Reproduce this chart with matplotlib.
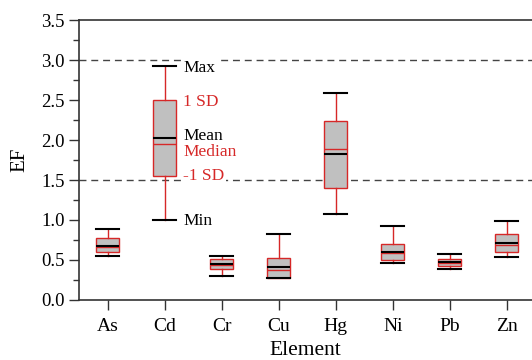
import matplotlib
matplotlib.use("Agg")
import matplotlib.pyplot as plt
from matplotlib.ticker import MultipleLocator

plt.rcParams['font.family'] = ['Liberation Serif', 'DejaVu Serif']

# EF statistics per element
elements = ["As", "Cd", "Cr", "Cu", "Hg", "Ni", "Pb", "Zn"]
ef_min = [0.55, 1.00, 0.30, 0.27, 1.07, 0.46, 0.39, 0.54]
ef_max = [0.89, 2.92, 0.55, 0.83, 2.59, 0.92, 0.58, 0.99]
ef_lo_sd = [0.60, 1.55, 0.39, 0.28, 1.40, 0.50, 0.43, 0.60]
ef_hi_sd = [0.77, 2.50, 0.51, 0.53, 2.24, 0.70, 0.51, 0.83]
ef_mean = [0.68, 2.03, 0.45, 0.41, 1.82, 0.60, 0.47, 0.71]
ef_median = [0.66, 1.95, 0.44, 0.37, 1.89, 0.59, 0.46, 0.69]
thresholds = [1.5, 3.0]

RED = '#d62828'
GRAY = '#c0c0c0'

stats = []
for i, el in enumerate(elements):
    stats.append(dict(label=el, whislo=ef_min[i], whishi=ef_max[i],
                      q1=ef_lo_sd[i], q3=ef_hi_sd[i],
                      med=ef_median[i], mean=ef_mean[i], fliers=[]))

fig = plt.figure(figsize=(5.32, 3.6), dpi=100)
ax = fig.add_axes([0.1485, 0.1667, 0.8515, 0.7777])

for t in thresholds:
    ax.axhline(t, color='#444444', lw=1.0, dashes=(5, 3.5), zorder=0)

ax.bxp(stats, positions=range(1, len(elements) + 1), widths=0.4,
       patch_artist=True, showmeans=True, meanline=True, showfliers=False,
       boxprops=dict(facecolor=GRAY, edgecolor=RED, lw=1.0),
       whiskerprops=dict(color=RED, lw=1.0),
       capprops=dict(color='black', lw=1.5),
       medianprops=dict(color=RED, lw=1.0),
       meanprops=dict(color='black', lw=1.5, linestyle='-'),
       capwidths=0.4)

# legend-style annotations beside Cd
lx = 2.33
fs = 12.5
ax.text(lx, 2.90, "Max", color='black', fontsize=fs, va='center',
        bbox=dict(facecolor='white', edgecolor='none', pad=1))
ax.text(lx, 2.48, "1 SD", color=RED, fontsize=fs, va='center')
ax.text(lx, 2.05, "Mean", color='black', fontsize=fs, va='center')
ax.text(lx, 1.85, "Median", color=RED, fontsize=fs, va='center')
ax.text(lx, 1.55, "-1 SD", color=RED, fontsize=fs, va='center',
        bbox=dict(facecolor='white', edgecolor='none', pad=1))
ax.text(lx, 0.99, "Min", color='black', fontsize=fs, va='center')

ax.set_xlim(0.5, 8.44)
ax.set_ylim(0, 3.5)
ax.yaxis.set_major_locator(MultipleLocator(0.5))
ax.yaxis.set_minor_locator(MultipleLocator(0.25))
ax.yaxis.set_major_formatter(matplotlib.ticker.FormatStrFormatter('%.1f'))
ax.set_xticks(range(1, len(elements) + 1))
ax.set_xticklabels(elements)
ax.tick_params(axis='both', which='major', direction='out', length=7,
               width=1, labelsize=13.5, color='#333333')
ax.tick_params(axis='x', which='major', labelsize=14, pad=6)
ax.tick_params(axis='y', which='minor', direction='out', length=4, width=1, color='#333333')
ax.spines['right'].set_visible(False)
for s in ['left', 'bottom', 'top']:
    ax.spines[s].set_linewidth(1.2)
    ax.spines[s].set_color('#333333')

ax.set_xlabel("Element", fontsize=15.5, labelpad=4)
ax.set_ylabel("EF", fontsize=15, labelpad=8)

fig.savefig("out.png", dpi=100)
